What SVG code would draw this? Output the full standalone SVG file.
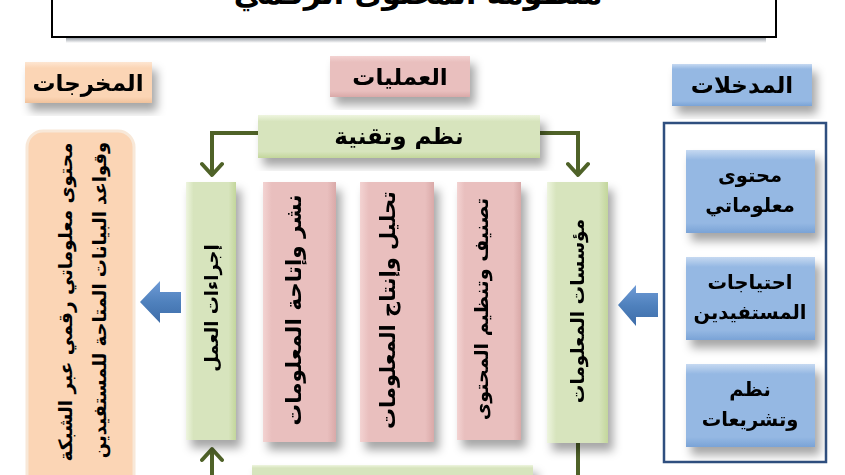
<svg xmlns="http://www.w3.org/2000/svg" width="845" height="475" viewBox="0 0 845 475">
<defs>
<style>
text{font-family:"DejaVu Sans","Liberation Sans",sans-serif;font-weight:bold;fill:#000;}
.hd{font-size:23px;text-anchor:middle;}
.vt{font-size:20px;text-anchor:middle;}
.bt{font-size:19.5px;text-anchor:middle;}
.con{fill:none;stroke:#4f6228;stroke-width:4;}
</style>
<filter id="sh" x="-30%" y="-20%" width="170%" height="150%">
<feDropShadow dx="5" dy="8" stdDeviation="5" flood-color="#000" flood-opacity="0.35"/>
</filter>
<linearGradient id="gPinkV" x1="0" y1="0" x2="1" y2="0">
<stop offset="0" stop-color="#f3d3d2"/><stop offset="0.12" stop-color="#e9bfbe"/><stop offset="0.88" stop-color="#e9bfbe"/><stop offset="1" stop-color="#d9a9a8"/>
</linearGradient>
<linearGradient id="gPinkH" x1="0" y1="0" x2="0" y2="1">
<stop offset="0" stop-color="#f3d3d2"/><stop offset="0.15" stop-color="#e9bfbe"/><stop offset="0.85" stop-color="#e9bfbe"/><stop offset="1" stop-color="#d9a9a8"/>
</linearGradient>
<linearGradient id="gGreenV" x1="0" y1="0" x2="1" y2="0">
<stop offset="0" stop-color="#eef5df"/><stop offset="0.15" stop-color="#d7e4bd"/><stop offset="0.85" stop-color="#d7e4bd"/><stop offset="1" stop-color="#c3d69b"/>
</linearGradient>
<linearGradient id="gGreenH" x1="0" y1="0" x2="0" y2="1">
<stop offset="0" stop-color="#eef5df"/><stop offset="0.15" stop-color="#d7e4bd"/><stop offset="0.85" stop-color="#d7e4bd"/><stop offset="1" stop-color="#c3d69b"/>
</linearGradient>
<linearGradient id="gBlue" x1="0" y1="0" x2="0" y2="1">
<stop offset="0" stop-color="#c6d9f1"/><stop offset="0.12" stop-color="#95b8e3"/><stop offset="0.88" stop-color="#95b8e3"/><stop offset="1" stop-color="#7aa3d6"/>
</linearGradient>
<linearGradient id="gPeach" x1="0" y1="0" x2="0" y2="1">
<stop offset="0" stop-color="#fde6d2"/><stop offset="0.15" stop-color="#fbd5b5"/><stop offset="0.85" stop-color="#fbd5b5"/><stop offset="1" stop-color="#f0c29c"/>
</linearGradient>
<linearGradient id="gArrow" x1="0" y1="0" x2="0" y2="1">
<stop offset="0" stop-color="#6f9bd6"/><stop offset="0.5" stop-color="#4f81bd"/><stop offset="1" stop-color="#3d6ca8"/>
</linearGradient>
<linearGradient id="gTitleSh" x1="0" y1="0" x2="0" y2="1">
<stop offset="0" stop-color="#9aa0a8"/><stop offset="1" stop-color="#ffffff"/>
</linearGradient>
<marker id="chev" viewBox="0 0 20 24" refX="17" refY="12" markerWidth="20" markerHeight="24" markerUnits="userSpaceOnUse" orient="auto-start-reverse">
<path d="M6 2 L17 12 L6 22" fill="none" stroke="#4f6228" stroke-width="4" stroke-linecap="round" stroke-linejoin="round"/>
</marker>
</defs>

<g id="title">
<rect x="66" y="38" width="700" height="5" fill="url(#gTitleSh)"/>
<rect x="52" y="-10" width="724" height="47" fill="#ffffff" stroke="#000" stroke-width="2"/>
<text x="418" y="4" style="font-size:30px;text-anchor:middle;">منظومة المحتوى الرقمي</text>
</g>

<g id="connectors">
<path class="con" d="M258 133 H212 V175" marker-end="url(#chev)"/>
<path class="con" d="M540 133 H578 V175" marker-end="url(#chev)"/>
<path class="con" d="M212 480 V449" marker-end="url(#chev)"/>
<path class="con" d="M578 443 V480"/>
<polygon id="arrow-out" points="140,302 160,281 160,292 181,292 181,313 160,313 160,323" fill="url(#gArrow)"/>
<polygon id="arrow-in" points="618,305 636,285 636,293 658,293 658,317 636,317 636,326" fill="url(#gArrow)"/>
</g>

<g id="hdr-outputs" filter="url(#sh)">
<rect x="25" y="62" width="127" height="41" fill="url(#gPeach)"/>
<text class="hd" x="88" y="91">المخرجات</text>
</g>
<g id="hdr-processes" filter="url(#sh)">
<rect x="330" y="56" width="140" height="41" fill="url(#gPinkH)"/>
<text class="hd" x="400" y="85">العمليات</text>
</g>
<g id="hdr-inputs" filter="url(#sh)">
<rect x="672" y="64" width="140" height="42" fill="url(#gBlue)"/>
<text class="hd" x="742" y="93">المدخلات</text>
</g>

<g id="systems-tech" filter="url(#sh)">
<rect x="258" y="115" width="282" height="43" fill="url(#gGreenH)"/>
<text class="hd" x="399" y="144">نظم وتقنية</text>
</g>

<g id="work-procedures" filter="url(#sh)">
<rect x="186" y="182" width="50" height="258" fill="url(#gGreenV)"/>
<text class="vt" style="font-size:18px" transform="translate(218,308) rotate(-90)">إجراءات العمل</text>
</g>
<g id="publish" filter="url(#sh)">
<rect x="263" y="182" width="73" height="260" fill="url(#gPinkV)"/>
<text class="vt" style="font-size:21.5px" transform="translate(301,310) rotate(-90)">نشر وإتاحة المعلومات</text>
</g>
<g id="analysis" filter="url(#sh)">
<rect x="360" y="182" width="74" height="260" fill="url(#gPinkV)"/>
<text class="vt" style="font-size:21px" transform="translate(395,310) rotate(-90)">تحليل وإنتاج المعلومات</text>
</g>
<g id="classify" filter="url(#sh)">
<rect x="457" y="182" width="64" height="258" fill="url(#gPinkV)"/>
<text class="vt" style="font-size:19px" transform="translate(488,309) rotate(-90)">تصنيف وتنظيم المحتوى</text>
</g>
<g id="institutions" filter="url(#sh)">
<rect x="547" y="182" width="61" height="261" fill="url(#gGreenV)"/>
<text class="vt" style="font-size:18.5px" transform="translate(584,311) rotate(-90)">مؤسسات المعلومات</text>
</g>
<g id="bottom-box" filter="url(#sh)">
<rect x="252" y="465" width="281" height="20" fill="url(#gGreenH)"/>
</g>

<g id="outputs">
<rect x="27" y="131" width="107" height="360" rx="16" fill="#fbd5b5" stroke="#f8e8d8" stroke-width="3"/>
<text class="vt" style="font-size:18.5px" transform="translate(72,302) rotate(-90)">محتوى معلوماتي رقمي عبر الشبكة</text>
<text class="vt" style="font-size:18px" transform="translate(106,300) rotate(-90)">وقواعد البيانات المتاحة للمستفيدين</text>
</g>

<g id="inputs">
<rect x="664" y="123" width="162" height="339" fill="#ffffff" stroke="#2f4f7f" stroke-width="2.5"/>
</g>
<g id="in-content" filter="url(#sh)">
<rect x="686" y="150" width="129" height="83" fill="url(#gBlue)"/>
<text class="bt" x="750" y="182">محتوى</text>
<text class="bt" x="750" y="212">معلوماتي</text>
</g>
<g id="in-needs" filter="url(#sh)">
<rect x="686" y="257" width="129" height="83" fill="url(#gBlue)"/>
<text class="bt" x="750" y="289">احتياجات</text>
<text class="bt" x="750" y="319">المستفيدين</text>
</g>
<g id="in-systems" filter="url(#sh)">
<rect x="686" y="364" width="129" height="83" fill="url(#gBlue)"/>
<text class="bt" x="750" y="396">نظم</text>
<text class="bt" x="750" y="426">وتشريعات</text>
</g>
</svg>
